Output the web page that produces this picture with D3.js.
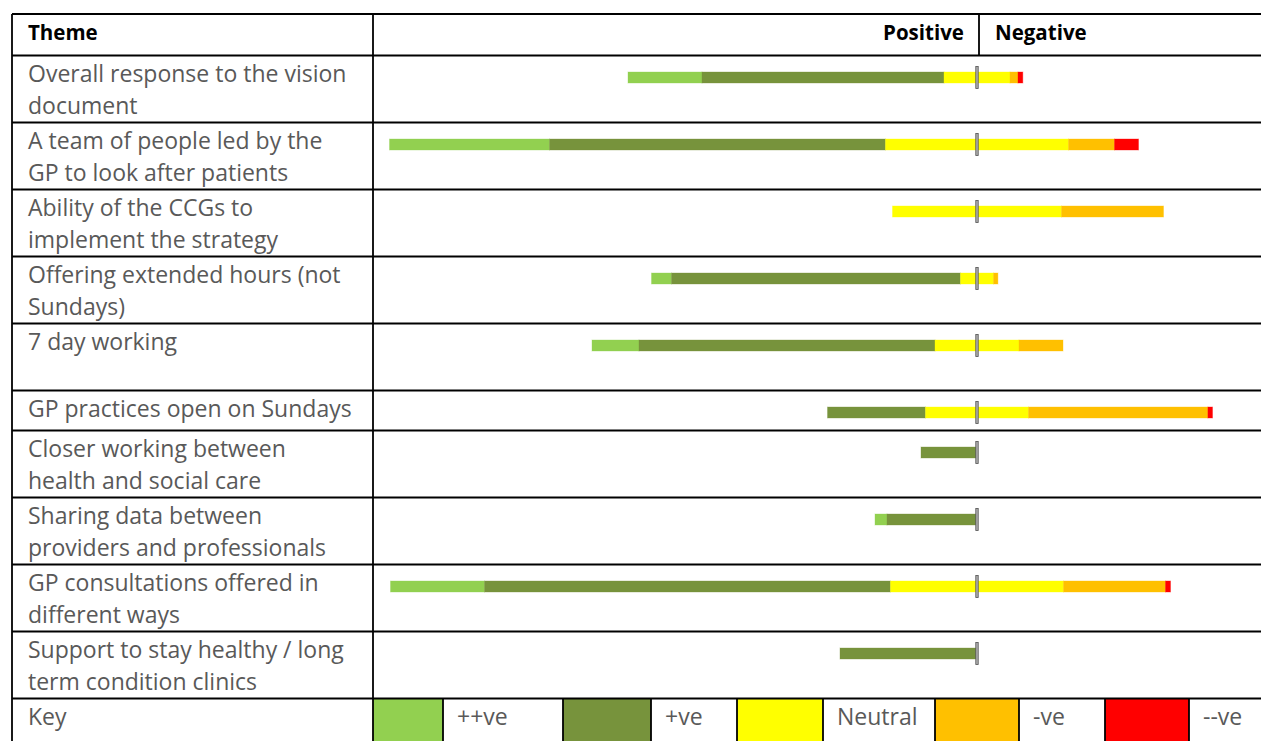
<!DOCTYPE html>
<html>
<head>
<meta charset="utf-8">
<script src="https://cdn.jsdelivr.net/npm/d3@7"></script>
<style>
  body { margin: 0; background: #fff; }
  svg { display: block; font-family: "Open Sans", sans-serif; }
</style>
</head>
<body>
<div id="chart"></div>
<script>
// themes, one entry per table row (lines as they wrap in the original)
const themes = [
  ["Overall response to the vision", "document"],
  ["A team of people led by the", "GP to look after patients"],
  ["Ability of the CCGs to", "implement the strategy"],
  ["Offering extended hours (not", "Sundays)"],
  ["7 day working", ""],
  ["GP practices open on Sundays"],
  ["Closer working between", "health and social care"],
  ["Sharing data between", "providers and professionals"],
  ["GP consultations offered in", "different ways"],
  ["Support to stay healthy / long", "term condition clinics"]
];

// response volumes per theme
const veVeryPositive = [37, 80, 0, 10, 23.5, 0, 0, 6, 47, 0];
const vePositive     = [121, 168, 0, 144.5, 148, 49, 28, 45, 203, 68.5];
const veNeutral      = [33, 91.5, 84.5, 16.5, 42, 51.5, 0, 0, 86.5, 0];
const veNegative     = [4, 23, 51, 2.2, 22, 89.7, 0, 0, 51, 0];
const veVeryNegative = [2.4, 12, 0, 0, 0, 2.3, 0, 0, 2.5, 0];

const keyLabels = ["++ve", "+ve", "Neutral", "-ve", "--ve"];
const colors = ["#92D050", "#77933C", "#FFFF00", "#FFC000", "#FF0000"];

const W = 1261, H = 741;
const tableLeft = 12, colX = 373, tableTop = 14, headerH = 41.5;
const textX = 28;
const txtColor = "#595959";

const svg = d3.select("#chart").append("svg")
  .attr("width", W)
  .attr("height", H);

// x scale: positive responses stack to the left of zero, negative to the right
const x = d3.scaleLinear().domain([-300, 150]).range([377, 1277]);

// row layout
const rowH = lines => lines.length === 1 ? 40 : 67;
let yCur = tableTop + headerH;
const rows = themes.map((lines, i) => {
  const r = {i, lines, y: yCur, h: rowH(lines)};
  yCur += r.h;
  return r;
});
const keyTop = yCur;

// stacked segments per row
const segs = [];
rows.forEach(r => {
  const i = r.i;
  const half = veNeutral[i] / 2;
  const p = vePositive[i], pp = veVeryPositive[i];
  const m = veNegative[i], mm = veVeryNegative[i];
  const parts = [
    [-(half + p + pp), -(half + p), 0],
    [-(half + p), -half, 1],
    [-half, half, 2],
    [half, half + m, 3],
    [half + m, half + m + mm, 4]
  ];
  parts.forEach(([a, b, c]) => {
    if (b - a > 0) segs.push({row: r, a, b, c});
  });
});

const barH = 11, barMid = 22;

svg.append("g")
  .selectAll("rect")
  .data(segs)
  .join("rect")
    .attr("x", d => x(d.a))
    .attr("y", d => d.row.y + barMid - barH / 2)
    .attr("width", d => x(d.b) - x(d.a))
    .attr("height", barH)
    .attr("fill", d => colors[d.c])
    .attr("stroke", d => colors[d.c])
    .attr("stroke-opacity", 0.35)
    .attr("stroke-width", 1);

// zero marker
svg.append("g")
  .selectAll("rect")
  .data(rows)
  .join("rect")
    .attr("x", x(0) - 1.2)
    .attr("y", d => d.y + barMid - 11)
    .attr("width", 2.4)
    .attr("height", 22)
    .attr("fill", "#b0b0b0")
    .attr("stroke", "#505050")
    .attr("stroke-width", 0.8);

// theme labels
const lbl = svg.append("g")
  .attr("fill", txtColor)
  .attr("font-size", 23)
  .selectAll("text")
  .data(rows)
  .join("text")
    .attr("x", textX)
    .attr("y", d => d.y + 26);
lbl.selectAll("tspan")
  .data(d => d.lines)
  .join("tspan")
    .attr("x", textX)
    .attr("dy", (d, i) => i === 0 ? 0 : 32)
    .text(d => d);

// header
const head = svg.append("g")
  .attr("font-weight", "bold")
  .attr("font-size", 20.5)
  .attr("fill", "#000");
head.append("text").attr("x", textX).attr("y", tableTop + 26).text("Theme");
head.append("text").attr("x", 964).attr("y", tableTop + 26)
  .attr("text-anchor", "end").text("Positive");
head.append("text").attr("x", 995).attr("y", tableTop + 26).text("Negative");

// key row
const keyEdges = [373, 443, 563, 651, 737, 823, 935, 1019, 1105, 1189, 1275];
const keyG = svg.append("g");
keyG.selectAll("rect")
  .data(colors)
  .join("rect")
    .attr("x", (d, i) => keyEdges[i * 2])
    .attr("y", keyTop)
    .attr("width", (d, i) => keyEdges[i * 2 + 1] - keyEdges[i * 2])
    .attr("height", H - keyTop)
    .attr("fill", d => d);
keyG.selectAll("text")
  .data(keyLabels)
  .join("text")
    .attr("x", (d, i) => keyEdges[i * 2 + 1] + 14)
    .attr("y", keyTop + 26)
    .attr("font-size", 23)
    .attr("fill", txtColor)
    .text(d => d);
svg.append("text")
  .attr("x", textX)
  .attr("y", keyTop + 26)
  .attr("font-size", 23)
  .attr("fill", txtColor)
  .text("Key");

// grid lines
const grid = svg.append("g")
  .attr("stroke", "#000")
  .attr("stroke-width", 1.8);
const hLines = [tableTop, tableTop + headerH].concat(rows.map(r => r.y + r.h));
grid.selectAll("line.h")
  .data(hLines)
  .join("line")
    .attr("class", "h")
    .attr("x1", tableLeft).attr("x2", W)
    .attr("y1", d => d).attr("y2", d => d);
grid.append("line")
  .attr("x1", tableLeft).attr("x2", tableLeft)
  .attr("y1", tableTop).attr("y2", H);
grid.append("line")
  .attr("x1", colX).attr("x2", colX)
  .attr("y1", tableTop).attr("y2", H);
grid.append("line")
  .attr("x1", 979).attr("x2", 979)
  .attr("y1", tableTop).attr("y2", tableTop + headerH);
grid.selectAll("line.k")
  .data(keyEdges.slice(1, -1))
  .join("line")
    .attr("class", "k")
    .attr("x1", d => d).attr("x2", d => d)
    .attr("y1", keyTop).attr("y2", H);
</script>
</body>
</html>
